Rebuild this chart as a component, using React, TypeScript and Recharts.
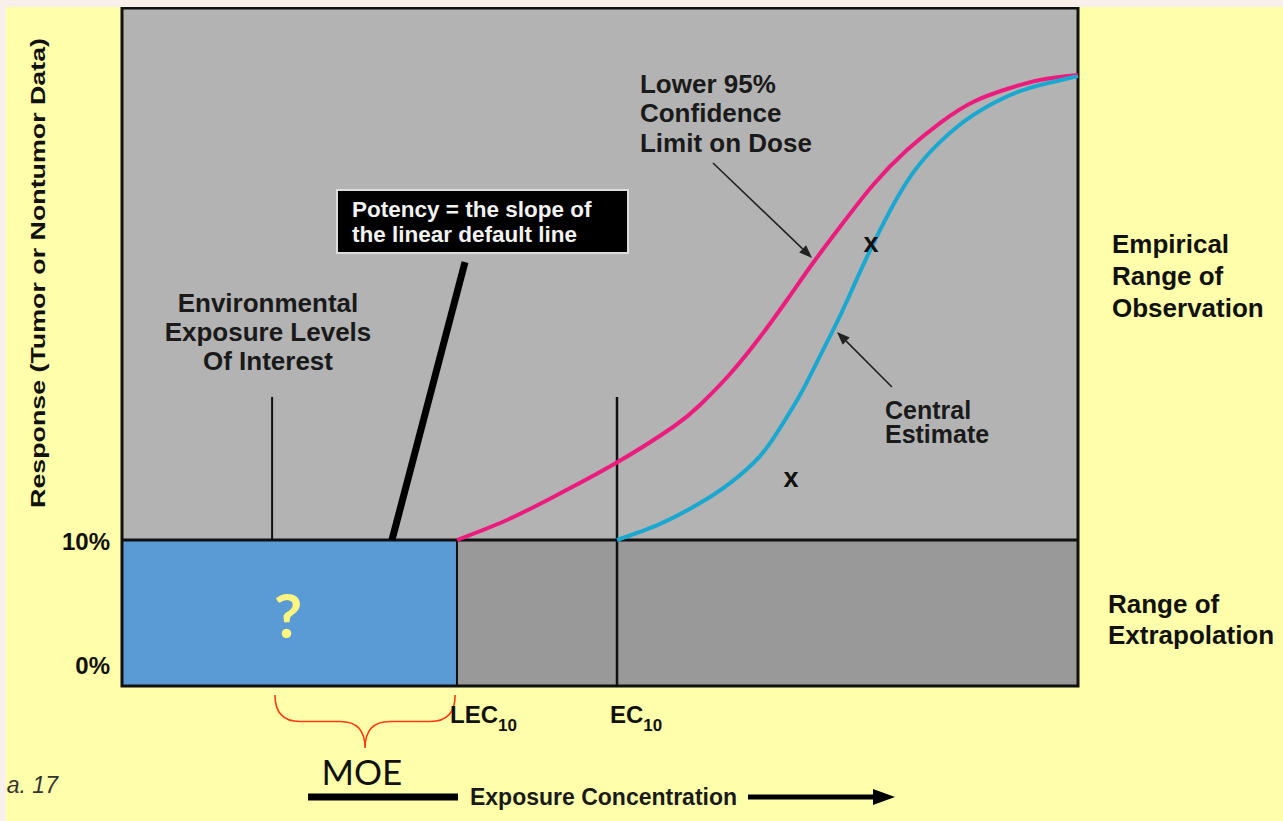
import {
  ComposedChart,
  Line,
  Scatter,
  XAxis,
  YAxis,
  ReferenceArea,
  ReferenceLine,
  ReferenceDot,
} from "recharts";

// dose on a 0–100 scale across the plot box, response in %
const lowerLimitCurve = [
  { dose: 35.04, response: 10.0 },
  { dose: 40.27, response: 11.37 },
  { dose: 45.5, response: 13.08 },
  { dose: 51.67, response: 15.27 },
  { dose: 57.64, response: 17.74 },
  { dose: 60.46, response: 19.25 },
  { dose: 63.6, response: 21.37 },
  { dose: 66.74, response: 23.9 },
  { dose: 69.56, response: 26.44 },
  { dose: 72.28, response: 28.97 },
  { dose: 75.1, response: 31.44 },
  { dose: 78.56, response: 34.32 },
  { dose: 82.11, response: 36.71 },
  { dose: 85.56, response: 38.56 },
  { dose: 89.02, response: 40.0 },
  { dose: 92.57, response: 40.89 },
  { dose: 96.03, response: 41.51 },
  { dose: 100, response: 41.85 },
];

const centralCurve = [
  { dose: 51.78, response: 10.0 },
  { dose: 56.28, response: 11.1 },
  { dose: 60.46, response: 12.53 },
  { dose: 63.6, response: 13.9 },
  { dose: 66.74, response: 15.75 },
  { dose: 68.83, response: 17.67 },
  { dose: 70.92, response: 19.93 },
  { dose: 73.01, response: 22.6 },
  { dose: 75.1, response: 25.34 },
  { dose: 77.2, response: 28.36 },
  { dose: 79.29, response: 31.23 },
  { dose: 81.38, response: 33.77 },
  { dose: 83.79, response: 36.03 },
  { dose: 87.34, response: 38.29 },
  { dose: 90.79, response: 39.79 },
  { dose: 94.25, response: 40.82 },
  { dose: 97.8, response: 41.44 },
  { dose: 100, response: 41.78 },
];

const observations = [
  { dose: 78.35, response: 30.34 },
  { dose: 69.98, response: 14.25 },
];

const yTicks = [0, 10];
const yTickLabels = ["0%", "10%"];

const benchmarks = [
  { name: "LEC", sub: "10", dose: 35.04 },
  { name: "EC", sub: "10", dose: 51.78 },
];

const envExposureDose = 15.7;
const moeRange = [16.0, 34.85];
const markerTop = 19.8;

// axis extents cover the whole picture so notes can sit outside the box
const DOSE_DOMAIN = [-12.134, 121.444];
const RESP_DOMAIN = [-9.247, 46.507];
const PLOT_TOP = 46.44;

const SANS = '"Liberation Sans", Arial, Helvetica, sans-serif';
const CAL = 'Lato, "Open Sans", sans-serif';

function Note({
  viewBox,
  lines,
  size = 24,
  lh = 30,
  color = "#111",
  anchor = "start",
  weight = 700,
  italic = false,
  font = SANS,
  dx = 0,
  dy = 0,
  rotate = 0,
  length,
}: any) {
  if (!viewBox) return null;
  const x = viewBox.x + dx;
  const y = viewBox.y + dy;
  return (
    <text
      x={x}
      y={y}
      fill={color}
      fontSize={size}
      fontWeight={weight}
      fontFamily={font}
      fontStyle={italic ? "italic" : "normal"}
      textAnchor={anchor}
      transform={rotate ? `rotate(${rotate} ${x} ${y})` : undefined}
      textLength={length}
      lengthAdjust={length ? "spacingAndGlyphs" : undefined}
    >
      {lines.map((l: string, i: number) => (
        <tspan key={i} x={x} dy={i === 0 ? 0 : lh}>
          {l}
        </tspan>
      ))}
    </text>
  );
}

function BenchLabel({ viewBox, name, sub }: any) {
  if (!viewBox) return null;
  return (
    <text
      x={viewBox.x - 7}
      y={viewBox.y + 37}
      fill="#111"
      fontFamily={SANS}
      fontWeight={700}
      fontSize={24}
    >
      {name}
      <tspan fontSize={17} dy={8}>
        {sub}
      </tspan>
    </text>
  );
}

function Arrow({ x1, y1, x2, y2, stroke, strokeWidth, head, spread }: any) {
  const ang = Math.atan2(y2 - y1, x2 - x1);
  const bx = x2 - head * Math.cos(ang);
  const by = y2 - head * Math.sin(ang);
  const px = -Math.sin(ang) * spread;
  const py = Math.cos(ang) * spread;
  return (
    <g>
      <line x1={x1} y1={y1} x2={bx} y2={by} stroke={stroke} strokeWidth={strokeWidth} />
      <polygon
        points={`${x2},${y2} ${bx + px},${by + py} ${bx - px},${by - py}`}
        fill={stroke}
      />
    </g>
  );
}

function Brace({ x1, y1, x2, depth }: any) {
  const h = depth / 2;
  const r = 25;
  const mid = (x1 + x2) / 2;
  const d =
    `M${x1},${y1} Q${x1},${y1 + h} ${x1 + r},${y1 + h} L${mid - r},${y1 + h} ` +
    `Q${mid},${y1 + h} ${mid},${y1 + depth} Q${mid},${y1 + h} ${mid + r},${y1 + h} ` +
    `L${x2 - r},${y1 + h} Q${x2},${y1 + h} ${x2},${y1}`;
  return <path d={d} fill="none" stroke="#FF3A10" strokeWidth={1.6} />;
}

const XMark = ({ cx, cy }: any) => (
  <text
    x={cx}
    y={cy}
    textAnchor="middle"
    dominantBaseline="central"
    fontSize={27}
    fontWeight={700}
    fontFamily={SANS}
    fill="#111"
  >
    x
  </text>
);

const dot = { r: 0, fill: "none", stroke: "none" };

export default function App() {
  return (
    <div
      style={{
        position: "absolute",
        left: 0,
        top: 0,
        width: 1283,
        height: 821,
        background: "#FAF0EB",
      }}
    >
      <div
        style={{
          position: "absolute",
          left: 6,
          top: 7,
          width: 1277,
          height: 814,
          background: "#FFFFAB",
        }}
      >
        <ComposedChart
          width={1277}
          height={814}
          margin={{ top: 0, right: 0, bottom: 0, left: 0 }}
        >
          <XAxis
            type="number"
            dataKey="dose"
            domain={DOSE_DOMAIN}
            allowDataOverflow
            hide
          />
          <YAxis
            type="number"
            dataKey="response"
            domain={RESP_DOMAIN}
            allowDataOverflow
            hide
          />

          {/* empirical range / extrapolation range */}
          <ReferenceArea x1={0} x2={100} y1={10} y2={PLOT_TOP} fill="#B3B3B3" fillOpacity={1} />
          <ReferenceArea x1={0} x2={100} y1={0} y2={10} fill="#999999" fillOpacity={1} />
          <ReferenceArea
            x1={0}
            x2={benchmarks[0].dose}
            y1={0}
            y2={10}
            fill="#5B9BD5"
            fillOpacity={1}
            stroke="#111"
            strokeWidth={2}
          />
          <ReferenceArea
            x1={0}
            x2={100}
            y1={0}
            y2={PLOT_TOP}
            fill="none"
            stroke="#111"
            strokeWidth={3}
          />

          {/* potency box */}
          <ReferenceArea
            x1={22.49}
            x2={52.93}
            y1={29.66}
            y2={33.97}
            fill="#000"
            fillOpacity={1}
            stroke="#DDDDDD"
            strokeWidth={2}
          />

          <ReferenceLine
            segment={[{ x: 0, y: 10 }, { x: 100, y: 10 }]}
            stroke="#111"
            strokeWidth={3}
          />
          <ReferenceLine
            segment={[{ x: envExposureDose, y: 10 }, { x: envExposureDose, y: markerTop }]}
            stroke="#111"
            strokeWidth={2}
          />
          <ReferenceLine
            segment={[{ x: benchmarks[1].dose, y: 0 }, { x: benchmarks[1].dose, y: markerTop }]}
            stroke="#111"
            strokeWidth={2.5}
          />
          <ReferenceLine
            segment={[{ x: 28.24, y: 10 }, { x: 35.88, y: 29.04 }]}
            stroke="#000"
            strokeWidth={7}
          />

          <Line
            data={lowerLimitCurve}
            dataKey="response"
            type="natural"
            stroke="#EC1C7E"
            strokeWidth={4}
            dot={false}
            activeDot={false}
            isAnimationActive={false}
          />
          <Line
            data={centralCurve}
            dataKey="response"
            type="natural"
            stroke="#1BA8D0"
            strokeWidth={4}
            dot={false}
            activeDot={false}
            isAnimationActive={false}
          />
          <Scatter
            data={observations}
            dataKey="response"
            shape={<XMark />}
            isAnimationActive={false}
          />

          {/* pointer arrows */}
          <ReferenceLine
            segment={[{ x: 61.82, y: 35.82 }, { x: 72.18, y: 29.32 }]}
            stroke="#222"
            strokeWidth={1.6}
            shape={(p: any) => <Arrow {...p} head={13} spread={5} />}
          />
          <ReferenceLine
            segment={[{ x: 80.54, y: 20.48 }, { x: 74.79, y: 24.25 }]}
            stroke="#222"
            strokeWidth={1.6}
            shape={(p: any) => <Arrow {...p} head={13} spread={5} />}
          />

          {/* exposure axis arrow */}
          <ReferenceLine
            segment={[{ x: 19.46, y: -7.6 }, { x: 35.15, y: -7.6 }]}
            stroke="#000"
            strokeWidth={7}
          />
          <ReferenceLine
            segment={[{ x: 65.48, y: -7.6 }, { x: 80.86, y: -7.6 }]}
            stroke="#000"
            strokeWidth={5}
            shape={(p: any) => <Arrow {...p} head={22} spread={8} />}
          />

          {/* MOE brace */}
          <ReferenceLine
            segment={[{ x: moeRange[0], y: -0.62 }, { x: moeRange[1], y: -0.62 }]}
            stroke="#FF3A10"
            shape={(p: any) => <Brace {...p} depth={53} />}
          />

          {yTicks.map((t, i) => (
            <ReferenceDot
              key={t}
              x={0}
              y={t}
              {...dot}
              label={
                <Note
                  lines={[yTickLabels[i]]}
                  size={24}
                  anchor="end"
                  dx={-12}
                  dy={t === 0 ? -12 : 10}
                />
              }
            />
          ))}

          {benchmarks.map((b) => (
            <ReferenceDot
              key={b.name}
              x={b.dose}
              y={0}
              {...dot}
              label={<BenchLabel name={b.name} sub={b.sub} />}
            />
          ))}

          <ReferenceDot
            x={-8.79}
            y={28.29}
            {...dot}
            label={
              <Note
                lines={["Response (Tumor or Nontumor Data)"]}
                size={20}
                anchor="middle"
                rotate={-90}
                dx={7}
                length={470}
              />
            }
          />
          <ReferenceDot
            x={-6.7}
            y={-7.33}
            {...dot}
            label={
              <Note lines={["a. 17"]} size={23} weight={400} italic color="#333" anchor="end" />
            }
          />
          <ReferenceDot
            x={17.36}
            y={4.73}
            {...dot}
            label={
              <Note lines={["?"]} size={62} font={CAL} color="#FFF580" anchor="middle" dy={21} />
            }
          />
          <ReferenceDot
            x={25.1}
            y={-6.78}
            {...dot}
            label={<Note lines={["MOE"]} size={35} weight={400} font={CAL} anchor="middle" />}
          />
          <ReferenceDot
            x={15.27}
            y={25.62}
            {...dot}
            label={
              <Note
                lines={["Environmental", "Exposure Levels", "Of Interest"]}
                size={26}
                lh={29}
                anchor="middle"
                color="#1a1a1a"
              />
            }
          />
          <ReferenceDot
            x={24.06}
            y={32.12}
            {...dot}
            label={
              <Note
                lines={["Potency = the slope of", "the linear default line"]}
                size={22.5}
                lh={25}
                color="#F2F2F2"
              />
            }
          />
          <ReferenceDot
            x={54.18}
            y={40.62}
            {...dot}
            label={
              <Note
                lines={["Lower 95%", "Confidence", "Limit on Dose"]}
                size={26}
                lh={29.5}
                color="#1a1a1a"
              />
            }
          />
          <ReferenceDot
            x={79.81}
            y={18.22}
            {...dot}
            label={
              <Note lines={["Central", "Estimate"]} size={25} lh={24} dy={-1} color="#1a1a1a" />
            }
          />
          <ReferenceDot
            x={103.56}
            y={29.66}
            {...dot}
            label={
              <Note lines={["Empirical", "Range of", "Observation"]} size={26} lh={32} />
            }
          />
          <ReferenceDot
            x={103.14}
            y={5.0}
            {...dot}
            label={<Note lines={["Range of", "Extrapolation"]} size={26} lh={31} />}
          />
          <ReferenceDot
            x={36.4}
            y={-8.15}
            {...dot}
            label={<Note lines={["Exposure Concentration"]} size={23} color="#1a1a1a" />}
          />
        </ComposedChart>
      </div>
    </div>
  );
}
